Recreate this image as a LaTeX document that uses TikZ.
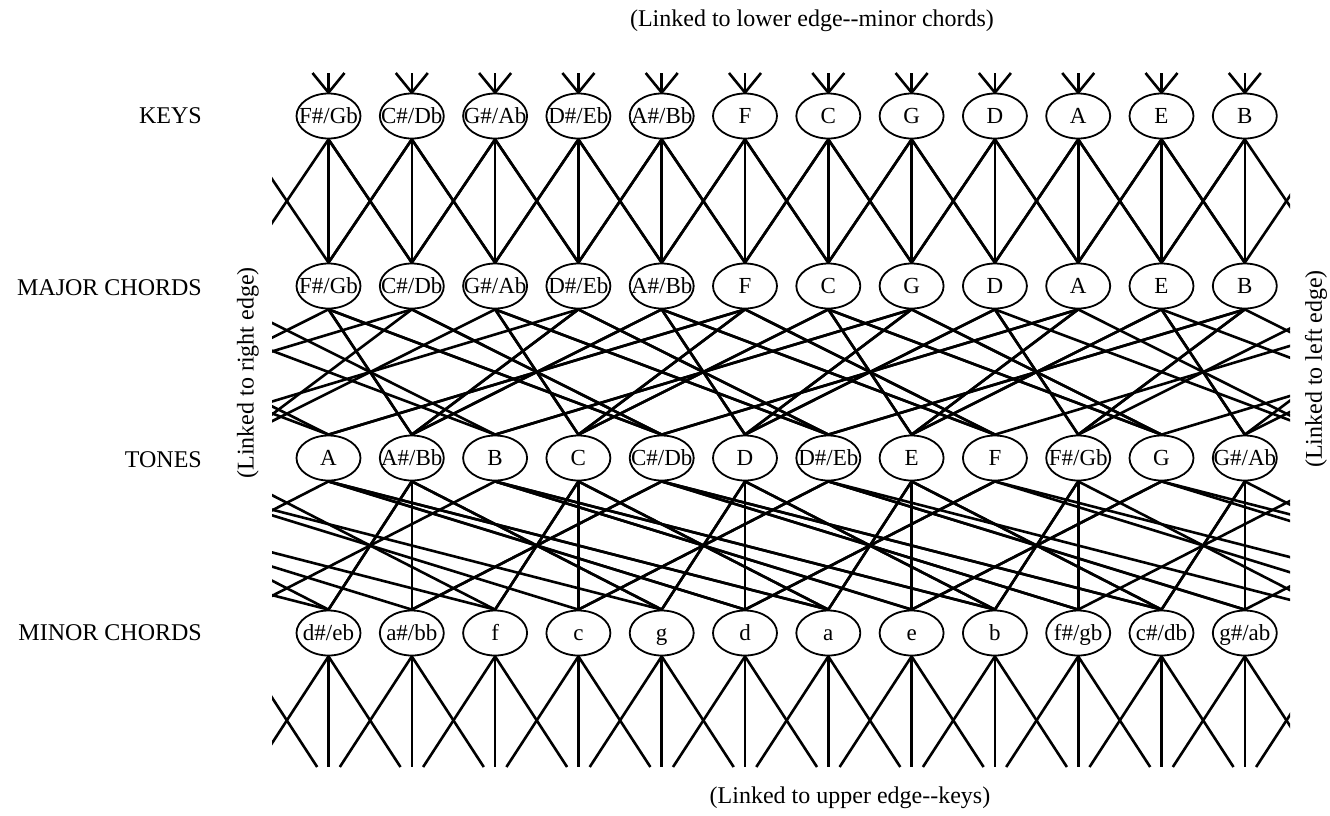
\documentclass[tikz,border=0pt]{standalone}
\usepackage{fontspec}
\setmainfont{Liberation Serif}
\usetikzlibrary{shapes.geometric}
\pgfdeclarelayer{bg}
\pgfsetlayers{bg,main}
\newcommand\wrapline[6]{%
  \pgfmathtruncatemacro\vcol{#2+#4}%
  \pgfmathtruncatemacro\bcol{mod(\vcol+24,12)}%
  \pgfmathsetmacro\sft{(\vcol-\bcol)*83.3}%
  \pgfmathsetmacro\nsft{-(\vcol-\bcol)*83.3}%
  \draw[link] (#1#2.#5) -- ([xshift=\sft pt]#3\bcol.#6);
  \draw[link] ([xshift=\nsft pt]#1#2.#5) -- (#3\bcol.#6);
}
\begin{document}
\begin{tikzpicture}[x=1pt,y=-1pt,
  note/.style={ellipse, draw, line width=1.8pt, fill=white, minimum width=64pt,
    minimum height=45pt, inner sep=0pt, text height=16pt, text depth=2pt,
    font=\fontsize{23}{23}\selectfont},
  link/.style={line width=2.6pt},
  lab/.style={font=\fontsize{24}{24}\selectfont, inner sep=0pt}]
\useasboundingbox (0,0) rectangle (1330,815);

% nodes
\foreach \t [count=\i from 0] in {F\#/Gb,C\#/Db,G\#/Ab,D\#/Eb,A\#/Bb,F,C,G,D,A,E,B}{
  \node[note] (K\i) at ({328.5+83.3*\i},116) {\makebox[0pt]{\t}};
  \node[note] (M\i) at ({328.5+83.3*\i},286) {\makebox[0pt]{\t}};
}
\foreach \t [count=\i from 0] in {A,A\#/Bb,B,C,C\#/Db,D,D\#/Eb,E,F,F\#/Gb,G,G\#/Ab}{
  \node[note] (T\i) at ({328.5+83.3*\i},458) {\makebox[0pt]{\t}};
}
\foreach \t [count=\i from 0] in {d\#/eb,a\#/bb,f,c,g,d,a,e,b,f\#/gb,c\#/db,g\#/ab}{
  \node[note] (N\i) at ({328.5+83.3*\i},633) {\makebox[0pt]{\t}};
}
% free ends at the top and bottom edges
\foreach \i in {0,...,11}{
  \coordinate (TL\i) at ({312.5+83.3*\i},73);
  \coordinate (TC\i) at ({328.5+83.3*\i},73);
  \coordinate (TR\i) at ({344.5+83.3*\i},73);
  \coordinate (BL\i) at ({256.5+83.3*\i},767);
  \coordinate (BC\i) at ({328.5+83.3*\i},767);
  \coordinate (BR\i) at ({400.5+83.3*\i},767);
}

% labels
\node[lab, anchor=east] (lk) at (202,116) {KEYS};
\node[lab, anchor=east] (lm) at (202,288) {MAJOR CHORDS};
\node[lab, anchor=east] (lt) at (202,460) {TONES};
\node[lab, anchor=east] (ln) at (202,633) {MINOR CHORDS};
\node[lab, rotate=90] (lr) at (248,373) {(Linked to right edge)};
\node[lab, rotate=90] (ll) at (1316,369) {(Linked to left edge)};
\node[lab] (ltop) at (812,21) {(Linked to lower edge\mbox{-}\mbox{-}minor chords)};
\node[lab] (lbot) at (850,798) {(Linked to upper edge\mbox{-}\mbox{-}keys)};

% connectors
\begin{pgfonlayer}{bg}
\begin{scope}
\clip (272,60) rectangle (1290,767);
\foreach \i in {0,...,11}{
  \foreach \c in {TL,TC,TR} \draw[link] (\c\i) -- (K\i.north);
  \foreach \c in {BL,BC,BR}{
    \foreach \s in {-999.6,0,999.6}
      \draw[link] ([xshift=\s pt]N\i.south) -- ([xshift=\s pt]\c\i);
  }
  \foreach \d in {-1,0,1} {\wrapline{K}{\i}{M}{\d}{south}{north}}
}
\foreach \j in {0,2,...,10}{
  \foreach \d in {-3,1,4} {\wrapline{M}{\j}{T}{\d}{south}{north}}
  \foreach \d in {-6,-3,1} {\wrapline{N}{\j}{T}{\d}{north}{south}}
}
\foreach \j in {1,3,...,11}{
  \foreach \d in {3,-5,-2} {\wrapline{M}{\j}{T}{\d}{south}{north}}
  \foreach \d in {0,3,-5} {\wrapline{N}{\j}{T}{\d}{north}{south}}
}
\end{scope}
\end{pgfonlayer}
\end{tikzpicture}
\end{document}
